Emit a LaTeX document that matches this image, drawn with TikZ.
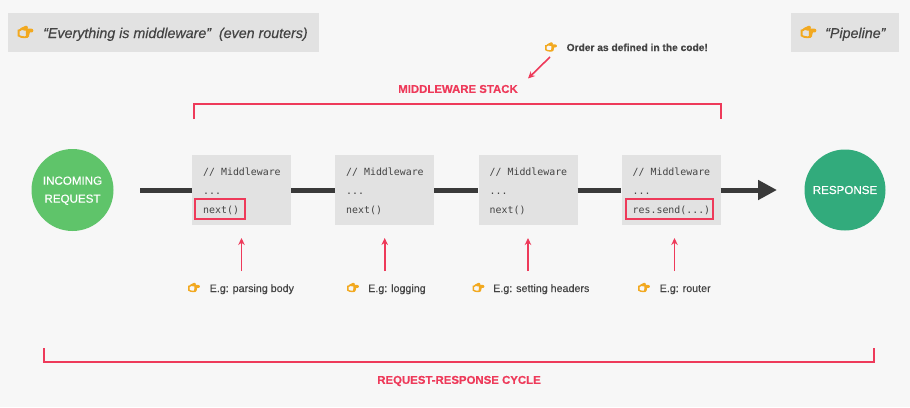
\documentclass[tikz,border=0pt]{standalone}
\usepackage{fontspec}
\setmainfont[RawFeature={embolden=0.3}]{Liberation Sans}
\setmonofont{DejaVu Sans Mono}
\newfontfamily\emojifont[RawFeature={embolden=12}]{Noto Emoji}
\usetikzlibrary{arrows.meta}
\definecolor{bgc}{HTML}{F7F7F7}
\definecolor{boxc}{HTML}{E2E2E2}
\definecolor{redc}{HTML}{EE3A5A}
\definecolor{darkc}{HTML}{3A3A3A}
\definecolor{txtc}{HTML}{444444}
\definecolor{handc}{HTML}{F2A920}
\definecolor{greena}{HTML}{5FC46A}
\definecolor{greenb}{HTML}{32AB7C}
\tikzset{
  x=1pt,y=-1pt,
  mwbox/.style={fill=boxc,minimum width=99pt,minimum height=70pt,inner sep=0pt},
  banner/.style={fill=boxc,inner sep=0pt},
  code/.style={font=\ttfamily\fontsize{9.9}{12}\selectfont,text=txtc,inner sep=0pt,anchor=base west},
  redbox/.style={draw=redc,line width=2pt,fill=none,inner sep=0pt},
  bracket/.style={draw=redc,line width=2pt,line cap=butt},
  redarrow/.style={draw=redc,line width=1.6pt,-{Stealth[length=7pt,width=6.5pt]}},
  flow/.style={draw=darkc,line width=5pt},
  eg/.style={font=\fontsize{10.7}{13}\selectfont,text=txtc,inner sep=0pt,anchor=base west},
  hand/.style={font=\emojifont\fontsize{9}{10}\selectfont,text=handc,inner sep=0pt,anchor=center},
  bighand/.style={font=\emojifont\fontsize{12}{13}\selectfont,text=handc,inner sep=0pt,anchor=center},
  redlabel/.style={font=\bfseries\fontsize{11.4}{14}\selectfont,text=redc,inner sep=0pt},
  circ/.style={circle,inner sep=0pt,text=white,align=center,font=\fontsize{11.6}{18}\selectfont},
  title/.style={font=\itshape\fontsize{14.25}{18}\selectfont,text=txtc,inner sep=0pt,anchor=base west},
}
\begin{document}
\begin{tikzpicture}
\useasboundingbox (0,0) rectangle (910,407);
\fill[bgc] (0,0) rectangle (910,407);
% banners
\node[banner,minimum width=311pt,minimum height=39pt] (b0) at (163.5,32.5) {};
\node[banner,minimum width=108pt,minimum height=39pt] (b1) at (845,32.5) {};
\node[bighand] (h0) at (25.5,32) {👉};
\node[title] (t0) at (43,38) {“Everything is middleware”\ \ (even routers)};
\node[bighand] (h1) at (808.5,32) {👉};
\node[title] (t1) at (825,38) {“Pipeline”};
% circles
\node[circ,fill=greena,minimum size=82pt] (inc) at (72.5,190) {};
\node[circ,inner sep=0pt] (inctext) at (72.5,190.7) {INCOMING\\REQUEST};
\node[circ,fill=greenb,minimum size=81pt] (resp) at (845,190) {RESPONSE};
% middleware boxes
\node[mwbox] (m1) at (241.5,190) {};
\node[mwbox] (m2) at (384.5,190) {};
\node[mwbox] (m3) at (528,190) {};
\node[mwbox] (m4) at (671,190) {};
% flow
\coordinate (start) at (140,190);
\coordinate (tip) at (777,190);
\draw[flow] (start) -- (m1.west);
\draw[flow] (m1.east) -- (m2.west);
\draw[flow] (m2.east) -- (m3.west);
\draw[flow] (m3.east) -- (m4.west);
\draw[flow,-{Triangle[length=19pt,width=19pt]}] (m4.east) -- (tip);
% code
\foreach \n/\x in {c1/203,c2/346,c3/489.5,c4/632.5}{
  \node[code] (\n a) at (\x,175) {// Middleware};
  \node[code] (\n b) at (\x,194) {...};
}
\node[code] (c1c) at (203,213) {next()};
\node[code] (c2c) at (346,213) {next()};
\node[code] (c3c) at (489.5,213) {next()};
\node[code] (c4c) at (632.5,213) {res.send(...)};
\node[redbox,minimum width=50pt,minimum height=20pt] (r1) at (220.3,209) {};
\node[redbox,minimum width=87pt,minimum height=20pt] (r4) at (669.5,209) {};
% top brackets
\coordinate (sa) at (193.5,119);
\coordinate (sb) at (193.5,104);
\coordinate (sc) at (721,104);
\coordinate (sd) at (721,119);
\draw[bracket] (sa) -- (sb) -- (sc) -- (sd);
\node[redlabel] (stack) at (458,89) {MIDDLEWARE STACK};
\node[hand] (h2) at (551,47) {👉};
\node[inner sep=0pt,anchor=base west,font=\bfseries\fontsize{10.2}{12}\selectfont,text=txtc] (order) at (566.5,51) {Order as defined in the code!};
\coordinate (oa) at (550,57);
\coordinate (ob) at (528,78.5);
\draw[redarrow] (oa) -- (ob);
% callouts
\foreach \n/\x in {1/241.5,2/384.7,3/528,4/674.5}{
  \coordinate (ps\n) at (\x,271);
  \coordinate (pe\n) at (\x,238);
  \draw[redarrow] (ps\n) -- (pe\n);
}
\node[hand] (e1) at (194,287.5) {👉};
\node[eg] (l1) at (209.5,292) {E.g: parsing body};
\node[hand] (e2) at (353,287.5) {👉};
\node[eg] (l2) at (368,292) {E.g: logging};
\node[hand] (e3) at (478.5,287.5) {👉};
\node[eg] (l3) at (493,292) {E.g: setting headers};
\node[hand] (e4) at (644,287.5) {👉};
\node[eg] (l4) at (659.5,292) {E.g: router};
% bottom bracket
\coordinate (ba) at (44,348);
\coordinate (bb) at (44,362);
\coordinate (bc) at (874,362);
\coordinate (bd) at (874,348);
\draw[bracket] (ba) -- (bb) -- (bc) -- (bd);
\node[redlabel] (cycle) at (459,381) {REQUEST-RESPONSE CYCLE};
\end{tikzpicture}
\end{document}
